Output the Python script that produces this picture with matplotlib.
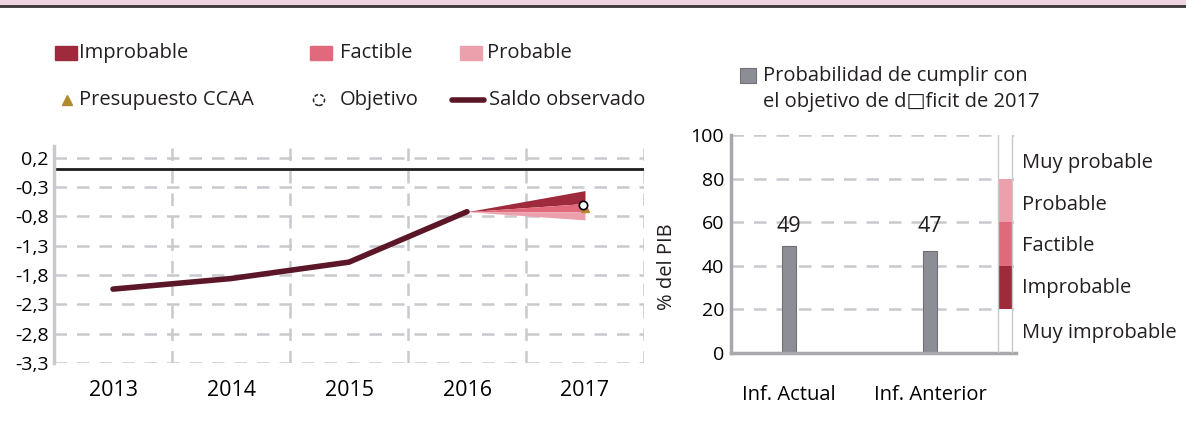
import matplotlib
matplotlib.use("Agg")
import matplotlib.pyplot as plt
from matplotlib.patches import Rectangle, Ellipse
from matplotlib.lines import Line2D

plt.rcParams['font.family'] = ['Open Sans', 'DejaVu Sans']
plt.rcParams['font.size'] = 14.5
plt.rcParams['text.color'] = '#231f20'

# Data - left panel
years = ['2013', '2014', '2015', '2016', '2017']
saldo = [-2.04, -1.86, -1.58, -0.72]          # saldo observado 2013-2016
fan_2017 = [-0.36, -0.58, -0.72, -0.86]       # limites del abanico en 2017
objetivo_2017 = -0.60
presupuesto_2017 = -0.66
yticks_left = [0.2, -0.3, -0.8, -1.3, -1.8, -2.3, -2.8, -3.3]

# Data - right panel
informes = ['Inf. Actual', 'Inf. Anterior']
prob = [49, 47]
zonas = ['Muy improbable', 'Improbable', 'Factible', 'Probable', 'Muy probable']
zona_lims = [0, 20, 40, 60, 80, 100]
zona_label_y = [9, 30, 49, 68, 87]

# colours
C_IMP = '#9e2a3c'
C_FAC = '#e06a7c'
C_PRO = '#eba0ab'
C_LINE = '#5b1727'
C_GOLD = '#b08a2c'
C_BAR = '#8b8e94'
C_GRID = '#c9c9ce'
zona_cols = ['white', C_IMP, C_FAC, C_PRO, 'white']
FS = 14.5
FS_TICK = 14

fig = plt.figure(figsize=(11.86, 4.32), dpi=100)

# top band
fig.patches.append(Rectangle((0, 1 - 5 / 432), 1, 5 / 432, transform=fig.transFigure,
                             color='#efd3de', zorder=0))
fig.lines.append(Line2D([0, 1], [1 - 6 / 432, 1 - 6 / 432], transform=fig.transFigure,
                        color='#3a3536', lw=2))

# ---------------- left panel ----------------
ax = fig.add_axes([54 / 1186, 69 / 432, 590 / 1186, 217 / 432])
x = list(range(len(years)))
ax.set_xlim(-0.5, 4.5)
ax.set_ylim(-3.3, 0.4)
ax.set_yticks(yticks_left)
ax.set_yticklabels([f'{v:.1f}'.replace('.', ',') for v in yticks_left])
ax.set_xticks(x)
ax.set_xticklabels(years)
for v in yticks_left:
    ax.axhline(v, color=C_GRID, lw=1.8, ls=(0, (5, 4)), zorder=0)
for i in range(len(years)):
    ax.axvline(i + 0.5, color=C_GRID, lw=1.8, ls=(0, (5, 4)), zorder=0)
ax.axhline(0, color='#1e1e1e', lw=2, zorder=1)

xs = [x[3], x[4]]
start = saldo[-1]
ax.fill_between(xs, [start, fan_2017[0]], [start, fan_2017[1]], color=C_IMP, lw=0, zorder=2)
ax.fill_between(xs, [start, fan_2017[1]], [start, fan_2017[2]], color=C_FAC, lw=0, zorder=2)
ax.fill_between(xs, [start, fan_2017[2]], [start, fan_2017[3]], color=C_PRO, lw=0, zorder=2)
ax.plot(x[:4], saldo, color=C_LINE, lw=4, solid_capstyle='round', zorder=3)
ax.plot([x[4]], [presupuesto_2017], marker='^', ms=6, color=C_GOLD, ls='none', zorder=4)
ax.plot([x[4] - 0.02], [objetivo_2017], marker='o', ms=6, mfc='white', mec='black', mew=1.2,
        ls='none', zorder=5)

for s in ['top', 'right', 'bottom']:
    ax.spines[s].set_visible(False)
ax.spines['left'].set_color(C_GRID)
ax.spines['left'].set_linewidth(2.5)
ax.tick_params(axis='both', length=0, labelsize=FS_TICK)
ax.tick_params(axis='x', pad=12, labelsize=15.5)
ax.tick_params(axis='y', pad=4)

# left legend
def leg_box(x0, y0, col, label, tx):
    fig.patches.append(Rectangle((x0 / 1186, 1 - (y0 + 7) / 432), 22 / 1186, 14 / 432,
                                 transform=fig.transFigure, color=col))
    fig.text(tx / 1186, 1 - y0 / 432, label, va='center', ha='left', fontsize=FS)

leg_box(55, 53, C_IMP, 'Improbable', 79)
leg_box(310, 53, C_FAC, 'Factible', 340)
leg_box(460, 53, C_PRO, 'Probable', 487)
fig.lines.append(Line2D([67 / 1186], [1 - 100 / 432], marker='^', ms=7, color=C_GOLD,
                        transform=fig.transFigure))
fig.text(79 / 1186, 1 - 100 / 432, 'Presupuesto CCAA', va='center', ha='left', fontsize=FS)
fig.patches.append(Ellipse((319 / 1186, 1 - 100 / 432), 11 / 1186, 11 / 432,
                           transform=fig.transFigure, facecolor='white', edgecolor='#222222',
                           lw=1.1, ls=(0, (2.5, 1.5))))
fig.text(340 / 1186, 1 - 100 / 432, 'Objetivo', va='center', ha='left', fontsize=FS)
fig.lines.append(Line2D([452 / 1186, 484 / 1186], [1 - 100 / 432, 1 - 100 / 432], color=C_LINE,
                        lw=4, solid_capstyle='round', transform=fig.transFigure))
fig.text(489 / 1186, 1 - 100 / 432, 'Saldo observado', va='center', ha='left', fontsize=FS)

# ---------------- right panel ----------------
ax2 = fig.add_axes([731 / 1186, 79 / 432, 285 / 1186, 218 / 432])
bx = list(range(len(informes)))
ax2.set_xlim(-0.41, 1.61)
ax2.set_ylim(0, 100)
for v in [20, 40, 60, 80, 100]:
    ax2.axhline(v, color=C_GRID, lw=1.8, ls=(0, (5, 4)), zorder=0)
ax2.bar(bx, prob, width=0.1, color=C_BAR, edgecolor='#6e7075', lw=0.8, zorder=2)
for xi, p in zip(bx, prob):
    ax2.text(xi, 58, f'{p}', ha='center', va='center', fontsize=FS + 1)

sx = 1.531
for lo, hi, col, lab, ly in zip(zona_lims[:-1], zona_lims[1:], zona_cols, zonas, zona_label_y):
    ax2.bar(sx, hi - lo, bottom=lo, width=0.103, color=col, lw=0, zorder=2)
    ax2.text(1.65, ly, lab, ha='left', va='center', fontsize=FS, clip_on=False)
ax2.plot([sx - 0.0515] * 2, [0, 100], color=C_GRID, lw=1, zorder=3)
ax2.plot([sx + 0.0515] * 2, [0, 100], color=C_GRID, lw=1, zorder=3)

ax2.set_yticks([0, 20, 40, 60, 80, 100])
ax2.set_xticks(bx)
ax2.set_xticklabels(informes)
for s in ['top', 'right']:
    ax2.spines[s].set_visible(False)
for s in ['left', 'bottom']:
    ax2.spines[s].set_color('#a7a7ad')
    ax2.spines[s].set_linewidth(2.5)
ax2.tick_params(axis='both', length=0, labelsize=FS_TICK)
ax2.tick_params(axis='x', pad=23, labelsize=FS)
ax2.tick_params(axis='y', pad=5)

fig.text(667 / 1186, 1 - 267 / 432, '% del PIB', rotation=90, ha='center', va='center',
         fontsize=FS)

# right legend
fig.patches.append(Rectangle((740 / 1186, 1 - 83 / 432), 16 / 1186, 15 / 432,
                             transform=fig.transFigure, facecolor=C_BAR, edgecolor='#6e7075',
                             lw=0.8))
fig.text(763 / 1186, 1 - 89 / 432, 'Probabilidad de cumplir con\nel objetivo de d\u25a1ficit de 2017',
         ha='left', va='center', fontsize=FS, linespacing=1.35)

fig.savefig('out.png', dpi=100)
